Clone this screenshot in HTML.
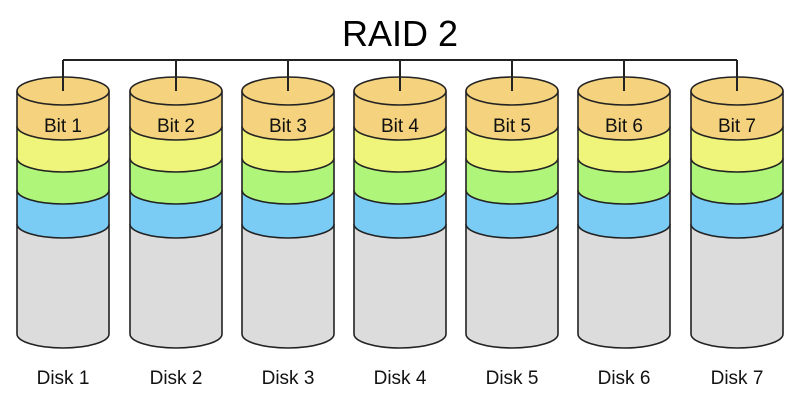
<!DOCTYPE html>
<html><head><meta charset="utf-8"><style>body{margin:0;background:#fff}svg{display:block}</style></head>
<body>
<svg width="800" height="400" xmlns="http://www.w3.org/2000/svg" xmlns:xlink="http://www.w3.org/1999/xlink" font-family="Liberation Sans, sans-serif">
<defs>
<g id="cyl">
<path d="M-46 224 L-46 334 A46 14 0 0 0 46 334 L46 224 Z" fill="#dcdcdc"/>
<path d="M-46 224 L-46 334 A46 14 0 0 0 46 334 L46 224" fill="none" stroke="#222" stroke-width="1.6"/>
<path d="M-46 190 L-46 224 A46 14 0 0 0 46 224 L46 190 Z" fill="#7accf4"/>
<path d="M-46 190 L-46 224 A46 14 0 0 0 46 224 L46 190" fill="none" stroke="#222" stroke-width="1.6"/>
<path d="M-46 158 L-46 190 A46 14 0 0 0 46 190 L46 158 Z" fill="#aef57a"/>
<path d="M-46 158 L-46 190 A46 14 0 0 0 46 190 L46 158" fill="none" stroke="#222" stroke-width="1.6"/>
<path d="M-46 126 L-46 158 A46 14 0 0 0 46 158 L46 126 Z" fill="#eef57a"/>
<path d="M-46 126 L-46 158 A46 14 0 0 0 46 158 L46 126" fill="none" stroke="#222" stroke-width="1.6"/>
<path d="M-46 91 L-46 126 A46 14 0 0 0 46 126 L46 91 Z" fill="#f4d27e"/>
<path d="M-46 91 L-46 126 A46 14 0 0 0 46 126 L46 91" fill="none" stroke="#222" stroke-width="1.6"/>
<ellipse cx="0" cy="91" rx="46" ry="14" fill="#f4d27e" stroke="#222" stroke-width="1.6"/>
<line x1="0" y1="60" x2="0" y2="91" stroke="#222" stroke-width="2"/>
</g>
</defs>
<text x="400" y="46" font-size="36" text-anchor="middle">RAID 2</text>
<line x1="63" y1="60" x2="737" y2="60" stroke="#222" stroke-width="2"/>
<use xlink:href="#cyl" href="#cyl" transform="translate(63,0)"/>
<use xlink:href="#cyl" href="#cyl" transform="translate(176,0)"/>
<use xlink:href="#cyl" href="#cyl" transform="translate(288,0)"/>
<use xlink:href="#cyl" href="#cyl" transform="translate(400,0)"/>
<use xlink:href="#cyl" href="#cyl" transform="translate(512,0)"/>
<use xlink:href="#cyl" href="#cyl" transform="translate(624,0)"/>
<use xlink:href="#cyl" href="#cyl" transform="translate(737,0)"/>
<g font-size="19" text-anchor="middle" fill="#111">
<text x="63" y="132">Bit 1</text>
<text x="176" y="132">Bit 2</text>
<text x="288" y="132">Bit 3</text>
<text x="400" y="132">Bit 4</text>
<text x="512" y="132">Bit 5</text>
<text x="624" y="132">Bit 6</text>
<text x="737" y="132">Bit 7</text>
<text x="63" y="384">Disk 1</text>
<text x="176" y="384">Disk 2</text>
<text x="288" y="384">Disk 3</text>
<text x="400" y="384">Disk 4</text>
<text x="512" y="384">Disk 5</text>
<text x="624" y="384">Disk 6</text>
<text x="737" y="384">Disk 7</text>
</g>
</svg>
</body></html>
